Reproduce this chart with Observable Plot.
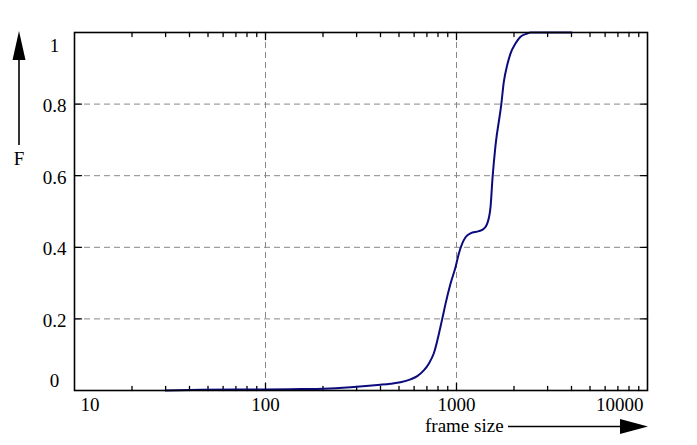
<!DOCTYPE html>
<html><head><meta charset="utf-8">
<script src="https://cdn.jsdelivr.net/npm/d3@7"></script>
<script src="https://cdn.jsdelivr.net/npm/@observablehq/plot@0.6"></script>
<style>body{margin:0;background:#fff}</style>
</head><body><div id="chart"></div>
<script>
const frameSizes = [30, 46, 100, 152, 201, 279, 400, 451, 509, 574, 623, 674, 716, 761, 842, 876, 930, 988, 1028, 1071, 1115, 1184, 1309, 1390, 1448, 1507, 1543, 1600, 1714, 1769, 1843, 1917, 2036, 2163, 2346, 2440, 4000];
const cdfValues  = [0, 0.002, 0.003, 0.004, 0.005, 0.009, 0.016, 0.019, 0.023, 0.031, 0.040, 0.056, 0.075, 0.104, 0.200, 0.242, 0.298, 0.344, 0.382, 0.410, 0.428, 0.439, 0.445, 0.452, 0.466, 0.512, 0.592, 0.684, 0.797, 0.862, 0.909, 0.941, 0.969, 0.988, 0.997, 1, 1];

const xTickValues = [10, 100, 1000, 10000];
const xTickLabels = ["10", "100", "1000", "10000"];
const yTickValues = [0, 0.2, 0.4, 0.6, 0.8, 1];
const yTickLabels = ["0", "0.2", "0.4", "0.6", "0.8", "1"];
const xGridValues = [100, 1000];
const yGridValues = [0.2, 0.4, 0.6, 0.8];
const xMinorValues = [20, 30, 40, 50, 60, 70, 80, 90, 200, 300, 400, 500, 600, 700, 800, 900, 2000, 3000, 4000, 5000, 6000, 7000, 8000, 9000];
const xAxisLabel = "frame size";
const yAxisLabel = "F";

const data = frameSizes.map((x, i) => ({x, F: cdfValues[i]}));
const xTicks = xTickValues.map((v, i) => ({v, label: xTickLabels[i]}));
const yTicks = yTickValues.map((v, i) => ({v, label: yTickLabels[i]}));

const W = 697, H = 445, mL = 74, mR = 50, mT = 32, mB = 55;
const font = '"Liberation Serif", "Times New Roman", serif';
const fs = 19;
const tickShape = {draw(c, l) { c.moveTo(0, 0); c.lineTo(0, -l); }};
const tickOpts = {shape: tickShape, anchor: "start", stroke: "black", strokeWidth: 1.3};

const plot = Plot.plot({
  width: W, height: H,
  marginLeft: mL, marginRight: mR, marginTop: mT, marginBottom: mB,
  x: {type: "log", domain: [10, 10000], axis: null},
  y: {domain: [0, 1], axis: null},
  style: {fontFamily: font, fontSize: fs + "px", background: "#fff", color: "black"},
  marks: [
    Plot.gridX(xGridValues, {stroke: "#888", strokeOpacity: 1, strokeDasharray: "6,4", strokeWidth: 1}),
    Plot.gridY(yGridValues, {stroke: "#888", strokeOpacity: 1, strokeDasharray: "6,4", strokeWidth: 1}),
    // inward ticks, bottom/top
    Plot.vector(xGridValues, {x: d => d, frameAnchor: "bottom", rotate: 0, length: 7, ...tickOpts}),
    Plot.vector(xMinorValues, {x: d => d, frameAnchor: "bottom", rotate: 0, length: 4, ...tickOpts}),
    Plot.vector(xGridValues, {x: d => d, frameAnchor: "top", rotate: 180, length: 7, ...tickOpts}),
    Plot.vector(xMinorValues, {x: d => d, frameAnchor: "top", rotate: 180, length: 4, ...tickOpts}),
    // inward ticks, left/right
    Plot.vector(yGridValues, {y: d => d, frameAnchor: "left", rotate: 90, length: 7, ...tickOpts}),
    Plot.vector(yGridValues, {y: d => d, frameAnchor: "right", rotate: -90, length: 7, ...tickOpts}),
    Plot.line(data, {x: "x", y: "F", curve: "monotone-x", stroke: "#0b0b7e", strokeWidth: 2}),
    Plot.frame({stroke: "black", strokeWidth: 1.6}),
    // x tick labels
    Plot.text(xTicks.filter(d => d.v > 10 && d.v < 10000), {x: "v", text: "label", frameAnchor: "bottom", dy: 14, lineAnchor: "middle", fill: "black"}),
    Plot.text(xTicks.filter(d => d.v === 10), {x: "v", text: "label", frameAnchor: "bottom", dy: 14, dx: 6, textAnchor: "start", lineAnchor: "middle", fill: "black"}),
    Plot.text(xTicks.filter(d => d.v === 10000), {x: "v", text: "label", frameAnchor: "bottom", dy: 14, dx: -4, textAnchor: "end", lineAnchor: "middle", fill: "black"}),
    // y tick labels
    Plot.text(yTicks.filter(d => d.v > 0 && d.v < 1), {y: "v", text: "label", frameAnchor: "left", dx: -20, dy: 2, textAnchor: "middle", lineAnchor: "middle", fill: "black"}),
    Plot.text(yTicks.filter(d => d.v === 1), {y: "v", text: "label", frameAnchor: "left", dx: -20, dy: 13, textAnchor: "middle", lineAnchor: "middle", fill: "black"}),
    Plot.text(yTicks.filter(d => d.v === 0), {y: "v", text: "label", frameAnchor: "left", dx: -20, dy: -10, textAnchor: "middle", lineAnchor: "middle", fill: "black"})
  ]
});

document.getElementById("chart").appendChild(plot);

// Axis-name arrows (annotation)
const svg = d3.select(plot);
const g = svg.append("g").attr("fill", "black").attr("stroke", "black");
// y arrow
const ax = 19;
g.append("line").attr("x1", ax).attr("x2", ax).attr("y1", 145).attr("y2", 56).attr("stroke-width", 1.6);
g.append("path").attr("d", `M${ax},${mT - 1}L${ax - 6.5},${60}L${ax + 6.5},${60}Z`).attr("stroke", "none");
g.append("text").attr("x", ax).attr("y", 165).attr("text-anchor", "middle").attr("stroke", "none")
  .style("font-family", font).style("font-size", fs + "px").text(yAxisLabel);
// x arrow
const ay = 426.5;
g.append("text").attr("x", 425).attr("y", 432).attr("text-anchor", "start").attr("stroke", "none")
  .style("font-family", font).style("font-size", fs + "px").text(xAxisLabel);
g.append("line").attr("x1", 508).attr("x2", 624).attr("y1", ay).attr("y2", ay).attr("stroke-width", 1.6);
g.append("path").attr("d", `M${W - mR + 1},${ay}L${620},${ay - 7.5}L${620},${ay + 7.5}Z`).attr("stroke", "none");
</script>
</body></html>
